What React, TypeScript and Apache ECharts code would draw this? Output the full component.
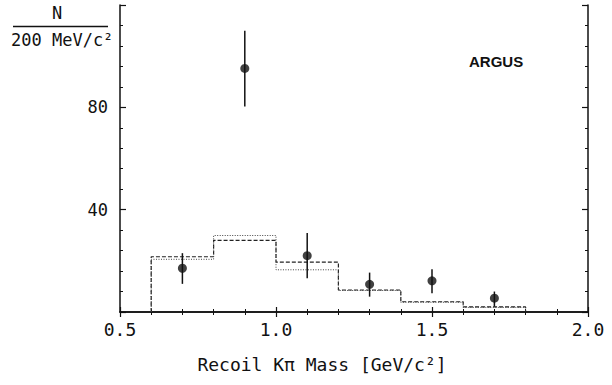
import React, { useEffect, useRef } from "react";
import * as echarts from "echarts";

// Bin edges (GeV/c^2) and histogram contents
const binEdges = [0.6, 0.8, 1.0, 1.2, 1.4, 1.6, 1.8];
const dashedHist = [21.6, 28.0, 19.5, 8.6, 4.0, 2.0];
const dottedHist = [20.6, 29.9, 16.5, 8.4, 3.8, 1.8];

// Data points with errors
const pointX = [0.7, 0.9, 1.1, 1.3, 1.5, 1.7];
const pointY = [17.1, 95.2, 22.0, 10.8, 12.2, 5.4];
const errLow = [11.0, 80.3, 13.2, 6.0, 7.3, 2.1];
const errHigh = [23.0, 109.9, 30.9, 15.4, 16.7, 8.0];

const xTickLabels = ["0.5", "1.0", "1.5", "2.0"];
const yTickLabels = ["40", "80"];

const FONT_MONO = "DejaVu Sans Mono";
const INK = "#111";

function histPoints(edges: number[], vals: number[]) {
  const pts: number[][] = [[edges[0], 0]];
  for (let i = 0; i < vals.length; i++) {
    pts.push([edges[i], vals[i]]);
    pts.push([edges[i + 1], vals[i]]);
  }
  pts.push([edges[edges.length - 1], 0]);
  return pts;
}

export default function App() {
  const ref = useRef<HTMLDivElement>(null);
  useEffect(() => {
    if (!ref.current) return;
    const chart = echarts.init(ref.current, undefined, { renderer: "svg" });
    const xCommon = {
      type: "value" as const,
      min: 0.5,
      max: 2.0,
      interval: 0.5,
      splitLine: { show: false },
      axisLine: { show: true, lineStyle: { color: INK, width: 1.5 } },
      axisTick: { show: true, inside: true, length: 5, lineStyle: { color: INK, width: 1.2 } },
      minorTick: { show: true, splitNumber: 5, length: 3, lineStyle: { color: INK, width: 1 } },
    };
    const yCommon = {
      type: "value" as const,
      min: 0,
      max: 120,
      interval: 40,
      splitLine: { show: false },
      axisLine: { show: true, lineStyle: { color: INK, width: 1.5 } },
      axisTick: { show: true, inside: true, length: 6, lineStyle: { color: INK, width: 1.2 } },
      minorTick: { show: true, splitNumber: 5, length: 3, lineStyle: { color: INK, width: 1 } },
    };
    chart.setOption({
      animation: false,
      backgroundColor: "#fff",
      grid: { left: 120, right: 24, top: 5, bottom: 73 },
      xAxis: [
        {
          ...xCommon,
          position: "bottom",
          axisLabel: {
            show: true,
            margin: 8,
            color: INK,
            fontFamily: FONT_MONO,
            fontSize: 18,
            formatter: (v: number) => {
              const s = v.toFixed(1);
              return xTickLabels.includes(s) ? s : "";
            },
          },
        },
        { ...xCommon, position: "top", axisLabel: { show: false } },
      ],
      yAxis: [
        {
          ...yCommon,
          position: "left",
          axisLabel: {
            show: true,
            margin: 12,
            color: INK,
            fontFamily: FONT_MONO,
            fontSize: 17,
            formatter: (v: number) => (yTickLabels.includes(String(v)) ? String(v) : ""),
          },
        },
        { ...yCommon, position: "right", axisLabel: { show: false } },
      ],
      series: [
        {
          type: "line",
          data: histPoints(binEdges, dashedHist),
          showSymbol: false,
          symbol: "none",
          lineStyle: { color: "#222", width: 1.2, type: [4, 2] },
          z: 2,
        },
        {
          type: "line",
          data: histPoints(binEdges, dottedHist),
          showSymbol: false,
          symbol: "none",
          lineStyle: { color: "#444", width: 1, type: [1, 1.5] },
          z: 2,
        },
        {
          type: "custom",
          data: pointX.map((x, i) => [x, errLow[i], errHigh[i]]),
          encode: { x: 0, y: [1, 2] },
          renderItem: (_params: any, api: any) => {
            const x = api.value(0);
            const p1 = api.coord([x, api.value(1)]);
            const p2 = api.coord([x, api.value(2)]);
            return {
              type: "line",
              shape: { x1: p1[0], y1: p1[1], x2: p2[0], y2: p2[1] },
              style: { stroke: INK, lineWidth: 1.5 },
            };
          },
          z: 3,
        },
        {
          type: "scatter",
          data: pointX.map((x, i) => [x, pointY[i]]),
          symbol: "circle",
          symbolSize: 9,
          itemStyle: { color: INK },
          z: 4,
        },
      ],
      graphic: [
        {
          type: "text",
          left: 52,
          top: 4,
          style: { text: "N", font: `17px "${FONT_MONO}"`, fill: INK },
        },
        {
          type: "line",
          shape: { x1: 13, y1: 26.5, x2: 108, y2: 26.5 },
          style: { stroke: INK, lineWidth: 1.5 },
        },
        {
          type: "text",
          left: 11,
          top: 31,
          style: { text: "200 MeV/c²", font: `17px "${FONT_MONO}"`, fill: INK },
        },
        {
          type: "text",
          left: 469,
          top: 54,
          style: { text: "ARGUS", font: `bold 15px "Liberation Sans"`, fill: INK },
        },
        {
          type: "text",
          x: 322,
          y: 364,
          style: {
            text: "Recoil Kπ Mass [GeV/c²]",
            font: `18px "${FONT_MONO}"`,
            fill: INK,
            align: "center",
            verticalAlign: "middle",
          },
        },
      ],
    });
    return () => chart.dispose();
  }, []);
  return (
    <div
      ref={ref}
      style={{ position: "fixed", left: 0, top: 0, width: 612, height: 385 }}
    />
  );
}
